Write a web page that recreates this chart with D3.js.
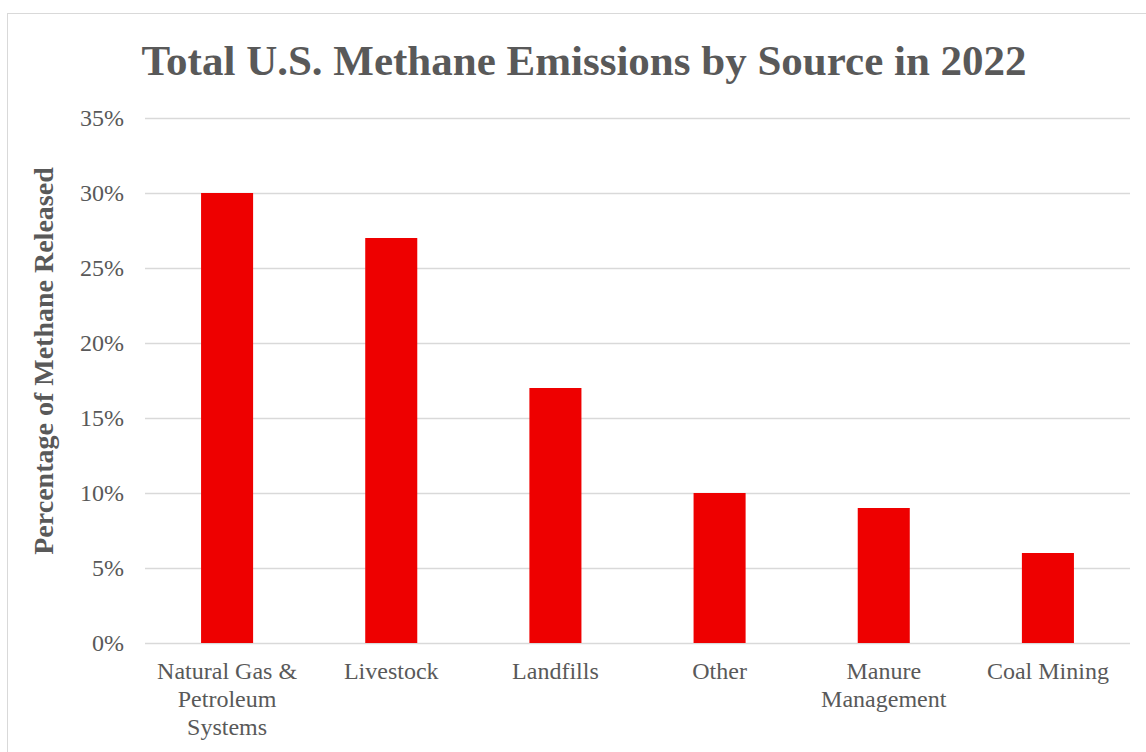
<!DOCTYPE html>
<html>
<head>
<meta charset="utf-8">
<script src="https://cdn.jsdelivr.net/npm/d3@7"></script>
<style>
  html, body { margin: 0; padding: 0; background: #fff; }
  svg { display: block; }
  svg text { font-family: "Liberation Serif", "Times New Roman", serif !important; fill: #595959; }
</style>
</head>
<body>
<svg id="chart" width="1146" height="752"></svg>
<script>
// Share of total U.S. methane emissions by source, 2022
const categories = ["Natural Gas & Petroleum Systems", "Livestock", "Landfills", "Other", "Manure Management", "Coal Mining"];
const categoryLines = [["Natural Gas &", "Petroleum", "Systems"], ["Livestock"], ["Landfills"], ["Other"], ["Manure", "Management"], ["Coal Mining"]];
const shares = [30, 27, 17, 10, 9, 6];
const yTicks = [0, 5, 10, 15, 20, 25, 30, 35];

const svg = d3.select("#chart");
const W = 1146, H = 752;
const plot = { left: 145, right: 1130, top: 118, bottom: 643 };

// outer chart frame
svg.append("rect")
  .attr("x", 7.5).attr("y", 13.5)
  .attr("width", W + 20).attr("height", H + 20)
  .attr("fill", "none").attr("stroke", "#d9d9d9").attr("stroke-width", 1);

const x = d3.scaleBand().domain(categories).range([plot.left, plot.right]).paddingInner(0.683).paddingOuter(0.3415);
const y = d3.scaleLinear().domain([0, 35]).range([plot.bottom, plot.top]);

// horizontal gridlines
svg.append("g").selectAll("line").data(yTicks).join("line")
  .attr("x1", plot.left).attr("x2", plot.right)
  .attr("y1", d => Math.round(y(d)) + 0.5).attr("y2", d => Math.round(y(d)) + 0.5)
  .attr("stroke", "#d9d9d9").attr("stroke-width", 1.5);

// y tick labels
const yAxis = d3.axisLeft(y).tickValues(yTicks).tickFormat(d => d + "%").tickSize(0).tickPadding(0);
const yg = svg.append("g").attr("transform", `translate(${plot.left - 21},0)`).call(yAxis);
yg.attr("font-family", null).attr("font-size", null);
yg.select(".domain").remove();
yg.selectAll("text")
  .attr("font-size", 24)
  .attr("fill", "#595959")
  .attr("dy", "0.33em");

// bars
svg.append("g").selectAll("rect").data(categories).join("rect")
  .attr("x", d => x(d))
  .attr("width", x.bandwidth())
  .attr("y", (d, i) => y(shares[i]))
  .attr("height", (d, i) => y(0) - y(shares[i]))
  .attr("fill", "#ee0000");

// category labels, wrapped
const lab = svg.append("g").selectAll("text").data(categories).join("text")
  .attr("text-anchor", "middle")
  .attr("font-size", 24)
  .attr("x", d => x(d) + x.bandwidth() / 2)
  .attr("y", 679);
lab.each(function(d, i) {
  const t = d3.select(this);
  categoryLines[i].forEach((line, k) => {
    t.append("tspan")
      .attr("x", x(d) + x.bandwidth() / 2)
      .attr("dy", k === 0 ? 0 : 28)
      .text(line);
  });
});

// title
svg.append("text")
  .attr("x", 584).attr("y", 75)
  .attr("text-anchor", "middle")
  .attr("font-size", 43).attr("font-weight", "bold")
  .text("Total U.S. Methane Emissions by Source in 2022");

// y-axis title
svg.append("text")
  .attr("transform", `translate(53, 361) rotate(-90)`)
  .attr("text-anchor", "middle")
  .attr("font-size", 28).attr("font-weight", "bold")
  .text("Percentage of Methane Released");
</script>
</body>
</html>
